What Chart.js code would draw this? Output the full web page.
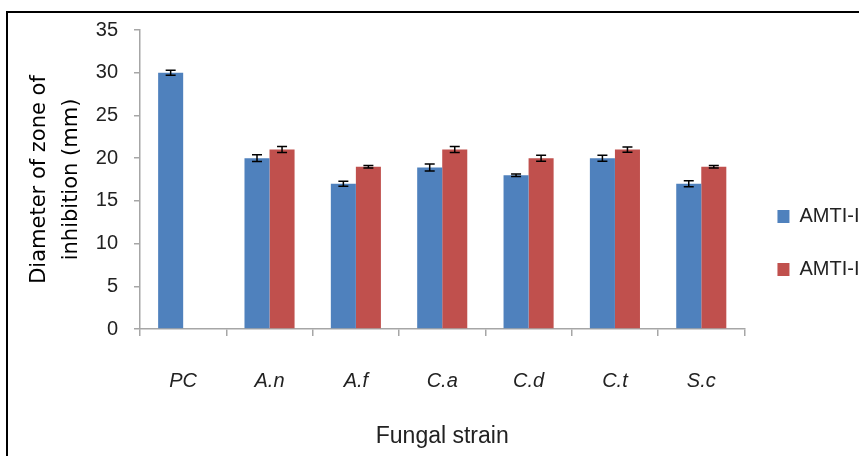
<!DOCTYPE html>
<html lang="en">
<head>
  <meta charset="UTF-8">
  <title>Zone of inhibition</title>
  <style>
    body {
      margin: 0;
      overflow: hidden;
      background: #fff;
    }
    #frame {
      position: absolute;
      left: 6px;
      top: 11px;
      width: 900px;
      height: 460px;
      border: 2px solid #000;
    }
    #chartBox {
      position: absolute;
      left: 0;
      top: 0;
      width: 900px;
      height: 443px;
    }
  </style>
</head>
<body>
  <div id="frame">
    <div id="chartBox"><canvas id="zoneChart"></canvas></div>
  </div>

  <script src="https://cdn.jsdelivr.net/npm/chart.js"></script>
  <script>
    const strains = ['PC', 'A.n', 'A.f', 'C.a', 'C.d', 'C.t', 'S.c'];
    const amti1 = [30, 20, 17, 18.9, 18, 20, 17];
    const amti2 = [null, 21, 19, 21, 20, 21, 19];
    const amti1Err = [0.3, 0.4, 0.3, 0.4, 0.15, 0.35, 0.35];
    const amti2Err = [null, 0.35, 0.15, 0.35, 0.35, 0.3, 0.15];
    const yTicks = [0, 5, 10, 15, 20, 25, 30, 35];

    const narrow = "'Liberation Sans Narrow', 'Liberation Sans', Arial, sans-serif";
    const wide = "'DejaVu Sans', Verdana, sans-serif";

    // draws the +/- error bars on top of each bar
    const errorBars = {
      id: 'errorBars',
      afterDatasetsDraw(chart) {
        const ctx = chart.ctx;
        const y = chart.scales.y;
        ctx.save();
        ctx.strokeStyle = '#000';
        ctx.lineWidth = 1.5;
        chart.data.datasets.forEach((ds, di) => {
          const meta = chart.getDatasetMeta(di);
          meta.data.forEach((bar, i) => {
            const v = ds.data[i];
            const e = ds.errors[i];
            if (v == null || e == null) return;
            const top = y.getPixelForValue(v + e);
            const bot = y.getPixelForValue(v - e);
            ctx.beginPath();
            ctx.moveTo(bar.x, top);
            ctx.lineTo(bar.x, bot);
            ctx.moveTo(bar.x - 5, top);
            ctx.lineTo(bar.x + 5, top);
            ctx.moveTo(bar.x - 5, bot);
            ctx.lineTo(bar.x + 5, bot);
            ctx.stroke();
          });
        });
        ctx.restore();
      }
    };

    function drawChart() {
      new Chart(document.getElementById('zoneChart'), {
        type: 'bar',
        data: {
          labels: strains,
          datasets: [
            {
              label: 'AMTI-I',
              data: amti1,
              errors: amti1Err,
              backgroundColor: '#4F81BD',
              categoryPercentage: 0.58,
              barPercentage: 1
            },
            {
              label: 'AMTI-II',
              data: amti2,
              errors: amti2Err,
              backgroundColor: '#C0504D',
              categoryPercentage: 0.58,
              barPercentage: 1
            }
          ]
        },
        options: {
          responsive: true,
          maintainAspectRatio: false,
          animation: false,
          layout: {
            padding: { top: 17, left: 0, right: 33, bottom: 0 }
          },
          plugins: {
            tooltip: { enabled: false },
            legend: {
              position: 'right',
              labels: {
                boxWidth: 12,
                boxHeight: 13,
                padding: 33,
                color: '#222',
                font: { family: narrow, size: 20 }
              }
            }
          },
          scales: {
            x: {
              afterFit: s => { s.height = 127; },
              grid: {
                offset: true,
                drawOnChartArea: false,
                tickLength: 7,
                color: '#a6a6a6',
                lineWidth: 1.5
              },
              border: { color: '#a6a6a6', width: 1.5 },
              ticks: {
                color: '#222',
                padding: 33,
                font: { family: narrow, size: 20, style: 'italic' }
              },
              title: {
                display: true,
                text: 'Fungal strain',
                color: '#222',
                padding: { top: 0, bottom: 6 },
                font: { family: narrow, size: 23 }
              }
            },
            y: {
              min: 0,
              max: 35,
              afterFit: s => {
                s.width = 132;
                s.paddingTop = 0;
                s.paddingBottom = 0;
              },
              afterBuildTicks: s => { s.ticks = yTicks.map(v => ({ value: v })); },
              grid: {
                drawOnChartArea: false,
                tickLength: 6,
                color: '#a6a6a6',
                lineWidth: 1.5
              },
              border: { color: '#a6a6a6', width: 1.5 },
              ticks: {
                color: '#222',
                padding: 16,
                font: { family: narrow, size: 20 }
              },
              title: {
                display: true,
                text: ['Diameter of zone of', 'inhibition (mm)'],
                color: '#000',
                padding: { top: 16, bottom: 0 },
                font: { family: wide, size: 21, lineHeight: 1.5 }
              }
            }
          }
        },
        plugins: [errorBars]
      });
    }

    Promise.all([
      document.fonts.load("20px 'Liberation Sans Narrow'"),
      document.fonts.load("italic 20px 'Liberation Sans Narrow'"),
      document.fonts.load("21px 'DejaVu Sans'")
    ]).then(drawChart, drawChart);
  </script>
</body>
</html>
